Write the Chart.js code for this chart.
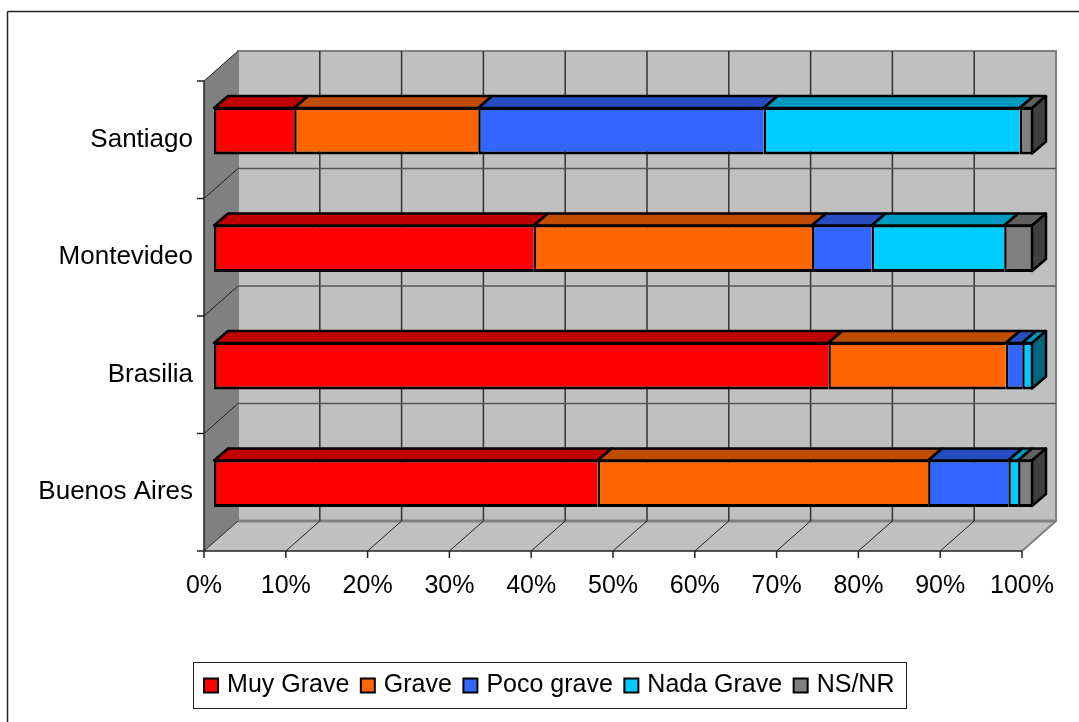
<!DOCTYPE html>
<html>
<head>
<meta charset="utf-8">
<style>
  html, body { margin: 0; padding: 0; background: #fff; }
  canvas { display: block; }
</style>
<script src="https://cdn.jsdelivr.net/npm/chart.js@4"></script>
</head>
<body>
<canvas id="chart" width="1079" height="722"></canvas>
<script>
const cities = ["Santiago", "Montevideo", "Brasilia", "Buenos Aires"];

const muyGrave = [9.8, 39.1, 75.1, 46.9];
const grave = [22.5, 34.0, 21.7, 40.4];
const pocoGrave = [34.9, 7.3, 2.0, 9.8];
const nadaGrave = [31.3, 16.2, 1.2, 1.2];
const nsNr = [1.5, 3.4, 0, 1.7];

const C = {
  red: "#ff0000", redTop: "#bf0000", redSide: "#800000",
  orange: "#ff6600", orangeTop: "#bf4c00", orangeSide: "#803300",
  blue: "#3366ff", blueTop: "#264cbf", blueSide: "#1a3380",
  cyan: "#00ccff", cyanTop: "#0099bf", cyanSide: "#006680",
  gray: "#808080", grayTop: "#606060", graySide: "#404040",
  wall: "#c0c0c0", wallDark: "#808080", edge: "#808080",
};

const font = "'Liberation Sans', Arial, sans-serif";

// bars sit a little behind the front of the floor, the wall further back
const toFront = { x: -10, y: 9 };
const toWall = { x: 34, y: -30 };
const barDepth = { x: 14, y: -12 };

function poly(ctx, pts, fill, stroke, lw) {
  ctx.beginPath();
  pts.forEach((p, i) => (i ? ctx.lineTo(p[0], p[1]) : ctx.moveTo(p[0], p[1])));
  ctx.closePath();
  if (fill) { ctx.fillStyle = fill; ctx.fill(); }
  if (stroke) { ctx.strokeStyle = stroke; ctx.lineWidth = lw; ctx.stroke(); }
}

function line(ctx, x1, y1, x2, y2, color, lw) {
  ctx.beginPath();
  ctx.moveTo(x1, y1);
  ctx.lineTo(x2, y2);
  ctx.strokeStyle = color;
  ctx.lineWidth = lw;
  ctx.stroke();
}

// walls, floor, grid and axis lines
const box3d = {
  id: "box3d",
  // y labels get clipped to the scale box, so let the box reach the frame
  afterLayout(chart) {
    chart.scales.y.left = 10;
  },

  beforeDatasetsDraw(chart) {
    const { ctx, chartArea: a, scales } = chart;
    const l = a.left + toFront.x, r = a.right + toFront.x;
    const t = a.top + toFront.y, b = a.bottom + toFront.y;
    const dx = toWall.x, dy = toWall.y;
    ctx.save();

    poly(ctx, [[l, t], [l + dx, t + dy], [l + dx, b + dy], [l, b]], C.wallDark);
    poly(ctx, [[l + dx, t + dy], [r + dx, t + dy], [r + dx, b + dy], [l + dx, b + dy]], C.wall, C.edge, 2);
    poly(ctx, [[l, b], [r, b], [r + dx, b + dy], [l + dx, b + dy]], C.wall);
    line(ctx, r, b, r + dx, b + dy, C.edge, 2);
    line(ctx, l + dx, b + dy, r + dx, b + dy, C.edge, 3);

    // value gridlines, back wall + floor + tick
    scales.x.ticks.forEach((tick) => {
      const x = scales.x.getPixelForValue(tick.value) + toFront.x;
      if (tick.value > 0 && tick.value < 100) line(ctx, x + dx, t + dy, x + dx, b + dy, "#333333", 1.5);
      if (tick.value < 100) line(ctx, x, b, x + dx, b + dy, "#222222", 1);
      line(ctx, x, b, x, b + 7, "#222222", 1.5);
    });

    // category gridlines, left wall + back wall + tick
    for (let i = 0; i <= cities.length; i++) {
      const y = t + (b - t) * i / cities.length;
      if (i > 0 && i < cities.length) {
        line(ctx, l + dx, y + dy, r + dx, y + dy, "#555555", 1.5);
      }
      if (i < cities.length) line(ctx, l, y, l + dx, y + dy, "#222222", 1);
      line(ctx, l - 7, y, l, y, "#222222", 1.5);
    }

    line(ctx, l, t, l, b, "#222222", 1.5);
    line(ctx, l, b, r, b, "#222222", 1.5);
    ctx.restore();
  },

  // top and end faces of the stacked bars
  afterDatasetsDraw(chart) {
    const { ctx, data } = chart;
    const dx = barDepth.x, dy = barDepth.y;
    ctx.save();
    ctx.lineJoin = "round";
    cities.forEach((_, j) => {
      let last = null;
      data.datasets.forEach((ds, i) => {
        if (!ds.data[j]) return;
        const bar = chart.getDatasetMeta(i).data[j];
        const top = bar.y - bar.height / 2 + 1;
        poly(ctx, [[bar.base, top], [bar.x, top], [bar.x + dx, top + dy], [bar.base + dx, top + dy]],
          ds.topColor, "#000", 2.5);
        last = { ds, bar, top };
      });
      if (last) {
        const { ds, bar, top } = last;
        const bot = top + bar.height - 2;
        poly(ctx, [[bar.x, top], [bar.x + dx, top + dy], [bar.x + dx, bot + dy], [bar.x, bot]],
          ds.sideColor, "#000", 2.5);
      }
    });
    ctx.restore();
  },

  // legend frame and the outer chart frame
  afterDraw(chart) {
    const { ctx, legend } = chart;
    const boxes = legend.legendHitBoxes;
    const x1 = boxes[0].left - 14.5;
    const x2 = boxes[boxes.length - 1].left + boxes[boxes.length - 1].width + 12;
    ctx.save();
    ctx.strokeStyle = "#222222";
    ctx.lineWidth = 1;
    ctx.strokeRect(Math.round(x1) + 0.5, 662.5, Math.round(x2 - x1), 46);
    line(ctx, 7.5, 722, 7.5, 11.5, "#222222", 1.5);
    line(ctx, 7.5, 11.5, 1079, 11.5, "#222222", 1.5);
    ctx.restore();
  },
};

function series(label, data, fill, topColor, sideColor) {
  return {
    label, data,
    backgroundColor: fill,
    borderColor: "#000000",
    borderWidth: { top: 3, bottom: 3, left: 2.5, right: 0 },
    borderSkipped: false,
    barPercentage: 0.81,
    categoryPercentage: 0.5,
    topColor, sideColor,
  };
}

new Chart(document.getElementById("chart"), {
  type: "bar",
  data: {
    labels: cities,
    datasets: [
      series("Muy Grave", muyGrave, C.red, C.redTop, C.redSide),
      series("Grave", grave, C.orange, C.orangeTop, C.orangeSide),
      series("Poco grave", pocoGrave, C.blue, C.blueTop, C.blueSide),
      series("Nada Grave", nadaGrave, C.cyan, C.cyanTop, C.cyanSide),
      series("NS/NR", nsNr, C.gray, C.grayTop, C.graySide),
    ],
  },
  options: {
    indexAxis: "y",
    responsive: false,
    animation: false,
    layout: {
      autoPadding: false,
      padding: { left: 70, right: 47, top: 72, bottom: 14 },
    },
    plugins: {
      tooltip: { enabled: false },
      legend: {
        position: "bottom",
        labels: {
          color: "#000",
          font: { family: font, size: 25 },
          usePointStyle: true,
          pointStyle: "rect",
          boxWidth: 7,
          boxHeight: 14,
          padding: 15,
          generateLabels: (c) =>
            Chart.defaults.plugins.legend.labels.generateLabels(c).map((l) => ({ ...l, lineWidth: 2 })),
        },
      },
    },
    scales: {
      x: {
        stacked: true,
        min: 0,
        max: 100,
        grid: { display: false },
        border: { display: false },
        afterFit: (s) => { s.height = 116; s.paddingLeft = 0; s.paddingRight = 0; },
        ticks: {
          stepSize: 10,
          autoSkip: false,
          maxRotation: 0,
          padding: 21,
          labelOffset: toFront.x,
          color: "#000",
          font: { family: font, size: 25 },
          callback: (v) => `${v}%`,
        },
      },
      y: {
        stacked: true,
        grid: { display: false },
        border: { display: false },
        afterFit: (s) => { s.width = 144; s.paddingTop = 0; s.paddingBottom = 0; },
        ticks: {
          padding: 13,
          labelOffset: toFront.y,
          color: "#000",
          font: { family: font, size: 26 },
        },
      },
    },
  },
  plugins: [box3d],
});
</script>
</body>
</html>
